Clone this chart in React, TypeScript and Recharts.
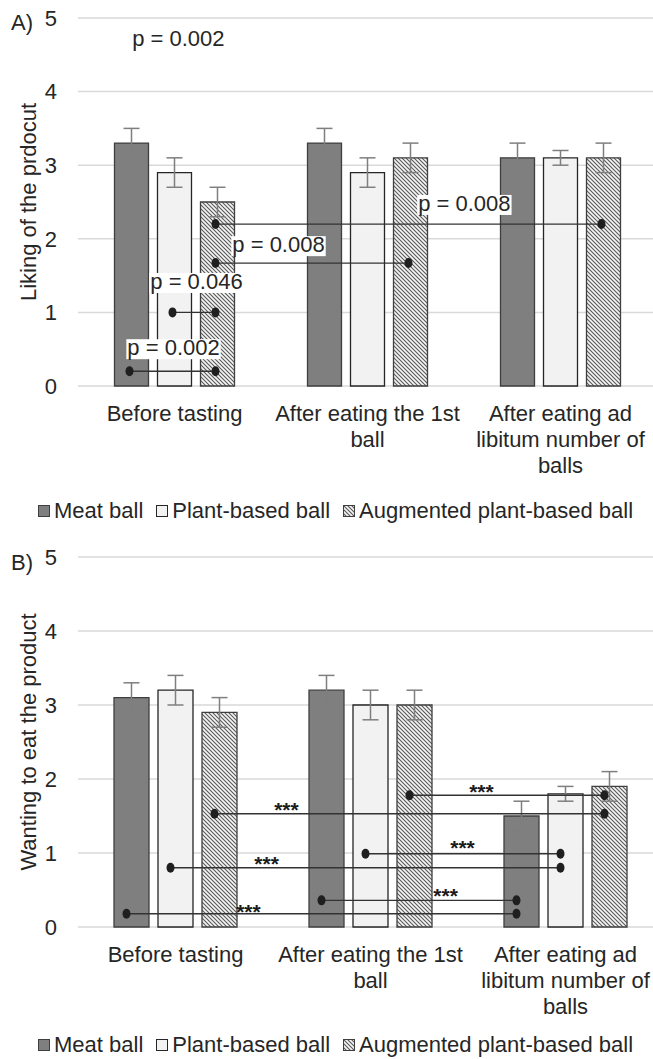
import React from 'react'
import {
  BarChart,
  Bar,
  XAxis,
  YAxis,
  CartesianGrid,
  ErrorBar,
  ReferenceLine,
  ReferenceDot,
} from 'recharts'

const categories = ['Before tasting', 'After eating the 1st ball', 'After eating ad libitum number of balls']
const categoryLines = [['Before tasting'], ['After eating the 1st', 'ball'], ['After eating ad', 'libitum number of', 'balls']]
const seriesNames = ['Meat ball', 'Plant-based ball', 'Augmented plant-based ball']
const yTicks = [0, 1, 2, 3, 4, 5]

// A) liking
const likingMeat = [3.3, 3.3, 3.1]
const likingPlant = [2.9, 2.9, 3.1]
const likingAug = [2.5, 3.1, 3.1]
const likingMeatErr = [0.2, 0.2, 0.2]
const likingPlantErr = [0.2, 0.2, 0.1]
const likingAugErr = [0.2, 0.2, 0.2]

// B) wanting
const wantingMeat = [3.1, 3.2, 1.5]
const wantingPlant = [3.2, 3.0, 1.8]
const wantingAug = [2.9, 3.0, 1.9]
const wantingMeatErr = [0.2, 0.2, 0.2]
const wantingPlantErr = [0.2, 0.2, 0.1]
const wantingAugErr = [0.2, 0.2, 0.2]

// comparisons: [fromCategory, fromSeries, toCategory, toSeries, y]
const likingPairs = [
  [0, 0, 0, 2, 0.2],
  [0, 1, 0, 2, 1.0],
  [0, 2, 1, 2, 1.67],
  [0, 2, 2, 2, 2.2],
]
// labels: [x in category units, y, text]
const likingLabels: [number, number, string][] = [
  [0.52, 4.7, 'p = 0.002'],
  [0.495, 0.5, 'p = 0.002'],
  [0.614, 1.4, 'p = 0.046'],
  [1.039, 1.9, 'p = 0.008'],
  [2.002, 2.46, 'p = 0.008'],
]

const wantingPairs = [
  [0, 0, 2, 0, 0.18],
  [1, 0, 2, 0, 0.36],
  [0, 1, 2, 1, 0.8],
  [1, 1, 2, 1, 0.99],
  [0, 2, 2, 2, 1.53],
  [1, 2, 2, 2, 1.78],
]
const wantingLabels: [number, number, string][] = [
  [0.874, 0.27, '***'],
  [1.885, 0.49, '***'],
  [0.967, 0.92, '***'],
  [1.972, 1.13, '***'],
  [1.069, 1.65, '***'],
  [2.069, 1.89, '***'],
]

const TEXT = '#262626'
const FONT = '"Liberation Sans", Arial, sans-serif'
const FILLS = ['#7f7f7f', '#f2f2f2', 'url(#hatch)']
const STROKES = ['#3f3f3f', '#262626', '#3f3f3f']

const CW: Record<string, number> = { ' ': 0.278, '.': 0.278, '=': 0.584, '*': 0.389 }
const textWidth = (s: string, fs: number) =>
  s.split('').reduce((w, ch) => w + (CW[ch] ?? 0.556), 0) * fs

interface Layout {
  band: number
  gap: number
  barGap: number
  dotShift: number
}

function barPos(cat: number, s: number, L: Layout) {
  const size = (L.band - 2 * L.gap - 2 * L.barGap) / 3
  return cat + (L.gap + s * (size + L.barGap) + size / 2 + L.dotShift) / L.band
}

function CategoryTick({ x, y, payload }: any) {
  const idx = categories.indexOf(payload.value)
  const lines = categoryLines[idx] ?? [payload.value]
  return (
    <text x={x} y={y} textAnchor="middle" fontSize={22} fill={TEXT} fontFamily={FONT}>
      {lines.map((l, i) => (
        <tspan key={i} x={x} dy={i === 0 ? 35 : 26}>
          {l}
        </tspan>
      ))}
    </text>
  )
}

function HatchDef({ id }: { id: string }) {
  return (
    <defs>
      <pattern id={id} width="4" height="4" patternUnits="userSpaceOnUse">
        <rect width="4" height="4" fill="#f4f4f4" />
        <path d="M-1,-1 L5,5 M-1,3 L1,5 M3,-1 L5,1" stroke="#595959" strokeWidth="1.1" />
      </pattern>
    </defs>
  )
}

interface PanelProps {
  tag: string
  tagTop: number
  top: number
  width: number
  plotHeight: number
  marginTop: number
  layout: Layout
  yLabel: string
  values: number[][]
  errors: number[][]
  pairs: number[][]
  labels: [number, number, string][]
  stars?: boolean
  legendTop: number
}

function Panel(p: PanelProps) {
  const data = categories.map((c, i) => ({
    cat: c,
    idx: i,
    meat: p.values[0][i],
    plant: p.values[1][i],
    aug: p.values[2][i],
    meatErr: p.errors[0][i],
    plantErr: p.errors[1][i],
    augErr: p.errors[2][i],
  }))
  const keys = ['meat', 'plant', 'aug']
  const plotWidth = p.layout.band * 3
  const height = p.marginTop + p.plotHeight + 100

  return (
    <>
      <div style={{ position: 'absolute', top: p.top, left: 0 }}>
        <BarChart
          width={p.width}
          height={height}
          data={data}
          margin={{ top: p.marginTop, right: p.width - 78 - plotWidth, bottom: 0, left: 0 }}
          barCategoryGap={p.layout.gap}
          barGap={p.layout.barGap}
        >
          <HatchDef id="hatch" />
          <CartesianGrid vertical={false} stroke="#d9d9d9" strokeWidth={1.5} />
          <XAxis
            dataKey="cat"
            axisLine={false}
            tickLine={false}
            tickSize={0}
            tickMargin={0}
            height={100}
            interval={0}
            tick={<CategoryTick />}
          />
          {/* numeric twin of the category axis, used to place the comparison marks */}
          <XAxis xAxisId="pos" dataKey="idx" type="number" domain={[0, 3]} allowDataOverflow hide />
          <YAxis
            domain={[0, 5]}
            ticks={yTicks}
            width={78}
            axisLine={false}
            tickLine={false}
            tickSize={0}
            tickMargin={21}
            tick={{ fontSize: 22, fill: TEXT, fontFamily: FONT }}
            label={{
              content: ({ viewBox }: any) => (
                <text
                  transform={`translate(28, ${viewBox.y + viewBox.height / 2}) rotate(-90)`}
                  textAnchor="middle"
                  dominantBaseline="central"
                  fontSize={22}
                  fill={TEXT}
                  fontFamily={FONT}
                >
                  {p.yLabel}
                </text>
              ),
            }}
          />
          {keys.map((k, s) => (
            <Bar
              key={k}
              dataKey={k}
              name={seriesNames[s]}
              fill={FILLS[s]}
              stroke={STROKES[s]}
              strokeWidth={1.3}
              isAnimationActive={false}
            >
              <ErrorBar
                dataKey={`${k}Err`}
                width={8}
                stroke="#7f7f7f"
                strokeWidth={1.5}
                direction="y"
                isAnimationActive={false}
              />
            </Bar>
          ))}
          {p.pairs.map(([c1, s1, c2, s2, y], i) => (
            <ReferenceLine
              key={`l${i}`}
              xAxisId="pos"
              segment={[
                { x: barPos(c1, s1, p.layout), y },
                { x: barPos(c2, s2, p.layout), y },
              ]}
              stroke="#333"
              strokeWidth={1.4}
            />
          ))}
          {p.pairs.flatMap(([c1, s1, c2, s2, y], i) =>
            [
              [c1, s1],
              [c2, s2],
            ].map(([c, s], j) => (
              <ReferenceDot
                key={`d${i}-${j}`}
                xAxisId="pos"
                x={barPos(c, s, p.layout)}
                y={y}
                r={5}
                shape={(d: any) => <ellipse cx={d.cx} cy={d.cy} rx={4} ry={5} fill="#1f1f1f" />}
              />
            ))
          )}
          {p.labels.map(([x, y, t], i) => (
            <ReferenceDot
              key={`t${i}`}
              xAxisId="pos"
              x={x}
              y={y}
              r={1}
              shape={(d: any) =>
                p.stars ? (
                  <text
                    x={d.cx}
                    y={d.cy + 12}
                    textAnchor="middle"
                    fontSize={21}
                    fontWeight="bold"
                    fill="#1a1a1a"
                    fontFamily={FONT}
                  >
                    {t}
                  </text>
                ) : (
                  <g>
                    <rect
                      x={d.cx - textWidth(t, 22) / 2 - 1}
                      y={d.cy - 10}
                      width={textWidth(t, 22) + 2}
                      height={20}
                      fill="#fff"
                    />
                    <text x={d.cx} y={d.cy + 6} textAnchor="middle" fontSize={22} fill={TEXT} fontFamily={FONT}>
                      {t}
                    </text>
                  </g>
                )
              }
            />
          ))}
        </BarChart>
      </div>
      <div
        style={{
          position: 'absolute',
          top: p.tagTop - 11,
          left: 11,
          fontSize: 22,
          lineHeight: '22px',
          fontFamily: FONT,
          color: TEXT,
        }}
      >
        {p.tag}
      </div>
      <LegendRow top={p.legendTop} />
    </>
  )
}

function LegendRow({ top }: { top: number }) {
  return (
    <div
      style={{
        position: 'absolute',
        top: top - 13,
        left: 38,
        display: 'flex',
        alignItems: 'center',
        fontSize: 22,
        lineHeight: '26px',
        fontFamily: FONT,
        color: TEXT,
        whiteSpace: 'nowrap',
      }}
    >
      {seriesNames.map((n, s) => (
        <div key={n} style={{ display: 'flex', alignItems: 'center', marginRight: 13 }}>
          <svg width={12} height={12} style={{ marginRight: 4 }}>
            {s === 2 && <HatchDef id="hatchLegend" />}
            <rect
              x={0.5}
              y={0.5}
              width={11}
              height={11}
              fill={s === 2 ? 'url(#hatchLegend)' : FILLS[s]}
              stroke={STROKES[s]}
              strokeWidth={1}
            />
          </svg>
          <span>{n}</span>
        </div>
      ))}
    </div>
  )
}

const layoutA: Layout = { band: 193, gap: 36.5, barGap: 9, dotShift: -2 }
const layoutB: Layout = { band: 195, gap: 36, barGap: 9, dotShift: -5 }

export default function App() {
  return (
    <div
      style={{
        position: 'absolute',
        top: 0,
        left: 0,
        width: 653,
        height: 1059,
        overflow: 'hidden',
        background: '#fff',
      }}
    >
      <Panel
        tag="A)"
        tagTop={23}
        top={0}
        width={660}
        plotHeight={368}
        marginTop={18}
        layout={layoutA}
        yLabel="Liking of the prdocut"
        values={[likingMeat, likingPlant, likingAug]}
        errors={[likingMeatErr, likingPlantErr, likingAugErr]}
        pairs={likingPairs}
        labels={likingLabels}
        legendTop={511}
      />
      <Panel
        tag="B)"
        tagTop={563}
        top={540}
        width={665}
        plotHeight={370}
        marginTop={17}
        layout={layoutB}
        yLabel="Wanting to eat the product"
        values={[wantingMeat, wantingPlant, wantingAug]}
        errors={[wantingMeatErr, wantingPlantErr, wantingAugErr]}
        pairs={wantingPairs}
        labels={wantingLabels}
        stars
        legendTop={1045}
      />
    </div>
  )
}
